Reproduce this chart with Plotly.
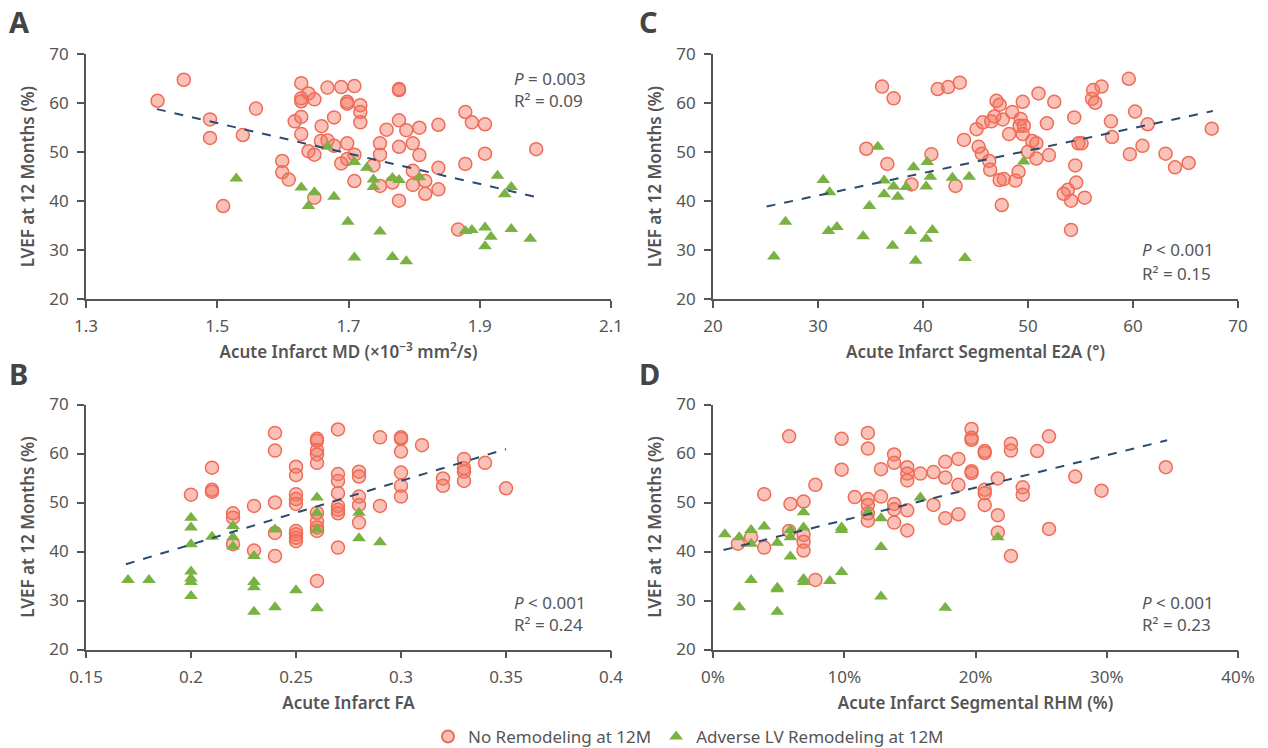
import plotly.graph_objects as go

W, H = 1268, 748
OFF = 8  # page offset of the plot div inside the browser body

# ---------------- Panel A: Acute Infarct MD ----------------
a_no_x = [1.409, 1.449, 1.489, 1.489, 1.559, 1.539, 1.509, 1.599, 1.599, 1.609,
          1.628, 1.639, 1.628, 1.628, 1.648, 1.618, 1.628, 1.628, 1.659, 1.668,
          1.689, 1.709, 1.698, 1.698, 1.718, 1.718, 1.718, 1.678, 1.658, 1.668,
          1.678, 1.639, 1.648, 1.698, 1.709, 1.698, 1.689, 1.648, 1.709, 1.738,
          1.748, 1.748, 1.758, 1.777, 1.777, 1.777, 1.788, 1.777, 1.798, 1.808,
          1.808, 1.798, 1.798, 1.748, 1.767, 1.777, 1.817, 1.817, 1.837, 1.837,
          1.837, 1.878, 1.888, 1.908, 1.878, 1.908, 1.867, 1.986]
a_no_y = [60.5, 64.8, 56.7, 52.9, 58.9, 53.5, 39.0, 48.2, 45.9, 44.4,
          64.1, 62.0, 61.0, 60.4, 60.8, 56.3, 57.2, 53.7, 55.3, 63.2,
          63.3, 63.5, 60.3, 59.9, 59.6, 58.2, 56.1, 57.1, 52.3, 52.4,
          51.3, 50.2, 49.5, 51.8, 49.5, 48.6, 47.7, 40.7, 44.1, 47.3,
          51.8, 49.5, 54.6, 62.9, 62.7, 56.5, 54.5, 51.1, 51.8, 55.0,
          49.4, 46.2, 43.3, 43.1, 43.8, 40.1, 44.1, 41.5, 55.6, 46.8,
          42.4, 58.2, 56.1, 55.7, 47.6, 49.7, 34.2, 50.6]
a_adv_x = [1.529, 1.628, 1.639, 1.648, 1.668, 1.678, 1.699, 1.709, 1.709, 1.728,
           1.738, 1.738, 1.748, 1.767, 1.777, 1.767, 1.788, 1.808, 1.878, 1.888,
           1.908, 1.917, 1.908, 1.927, 1.948, 1.938, 1.948, 1.977]
a_adv_y = [44.6, 42.8, 39.0, 41.8, 51.1, 40.9, 35.8, 48.0, 28.5, 46.8,
           44.4, 42.9, 33.8, 44.7, 44.3, 28.6, 27.7, 44.9, 33.9, 34.1,
           34.6, 32.7, 30.8, 45.2, 42.9, 41.4, 34.3, 32.3]
a_fit_x = [1.408, 1.984]
a_fit_y = [58.8, 40.9]

# ---------------- Panel B: Acute Infarct FA ----------------
b_no_x = [0.24, 0.24, 0.21, 0.21, 0.21, 0.20, 0.22, 0.22, 0.22, 0.23,
          0.23, 0.24, 0.24, 0.24, 0.25, 0.25, 0.25, 0.25, 0.25, 0.25,
          0.25, 0.25, 0.25, 0.26, 0.26, 0.26, 0.26, 0.26, 0.26, 0.26,
          0.26, 0.26, 0.26, 0.27, 0.27, 0.27, 0.27, 0.27, 0.27, 0.27,
          0.27, 0.28, 0.28, 0.28, 0.28, 0.28, 0.29, 0.29, 0.30, 0.30,
          0.30, 0.30, 0.30, 0.30, 0.31, 0.32, 0.32, 0.33, 0.33, 0.33,
          0.33, 0.34, 0.35]
b_no_y = [64.2, 60.6, 57.1, 52.6, 52.2, 51.6, 47.8, 46.9, 41.5, 49.3,
          40.2, 50.0, 43.8, 39.1, 57.3, 55.6, 51.7, 50.7, 49.7, 44.2,
          43.5, 42.8, 42.1, 63.0, 62.6, 60.7, 59.8, 58.1, 47.9, 46.2,
          44.9, 44.2, 34.0, 64.9, 55.8, 54.4, 51.9, 49.3, 48.5, 47.8,
          40.8, 56.3, 55.3, 51.2, 49.5, 45.9, 63.3, 49.3, 63.3, 63.0,
          60.4, 56.1, 53.4, 51.2, 61.7, 54.9, 53.4, 58.9, 57.0, 56.3,
          54.4, 58.1, 52.9]
b_adv_x = [0.17, 0.18, 0.20, 0.20, 0.20, 0.20, 0.20, 0.20, 0.20, 0.21,
           0.22, 0.22, 0.22, 0.23, 0.23, 0.23, 0.23, 0.24, 0.24, 0.25,
           0.26, 0.26, 0.26, 0.26, 0.28, 0.28, 0.29]
b_adv_y = [34.2, 34.2, 46.9, 44.9, 41.5, 35.9, 34.5, 33.8, 30.9, 43.0,
           45.2, 42.9, 41.0, 39.1, 33.8, 32.7, 27.7, 44.5, 28.6, 32.1,
           51.0, 47.9, 44.5, 28.4, 47.9, 42.7, 41.9]
b_fit_x = [0.169, 0.350]
b_fit_y = [37.4, 60.9]

# ---------------- Panel C: Acute Infarct Segmental E2A ----------------
c_no_x = [36.1, 37.2, 41.4, 42.4, 43.5, 34.6, 36.6, 40.8, 38.9, 43.1,
          43.9, 45.1, 45.3, 45.6, 45.7, 46.5, 46.8, 47.0, 47.3, 47.6,
          48.5, 48.2, 46.3, 46.4, 47.3, 47.7, 47.5, 48.8, 49.1, 49.3,
          49.2, 49.6, 49.5, 49.5, 50.0, 50.4, 50.8, 50.8, 51.0, 51.8,
          52.0, 52.5, 54.4, 54.8, 55.1, 54.5, 54.6, 53.8, 53.4, 54.1,
          55.4, 54.1, 56.2, 56.1, 56.4, 57.0, 57.9, 58.0, 59.6, 60.2,
          59.7, 60.9, 61.4, 63.1, 64.0, 65.3, 67.5]
c_no_y = [63.4, 61.0, 62.9, 63.3, 64.2, 50.7, 47.6, 49.6, 43.4, 43.1,
          52.5, 54.7, 51.1, 49.7, 56.1, 56.3, 57.3, 60.5, 59.7, 56.7,
          58.2, 53.7, 48.2, 46.4, 44.3, 44.5, 39.2, 44.2, 46.0, 56.8,
          55.4, 55.4, 53.7, 60.3, 50.1, 52.3, 51.8, 48.7, 62.0, 55.9,
          49.4, 60.3, 57.1, 51.8, 51.8, 47.3, 43.8, 42.3, 41.5, 40.1,
          40.7, 34.1, 62.7, 60.9, 60.1, 63.4, 56.3, 53.1, 65.0, 58.3,
          49.6, 51.3, 55.7, 49.7, 46.9, 47.8, 54.8]
c_adv_x = [25.8, 26.9, 30.5, 31.1, 31.0, 31.8, 34.3, 34.9, 35.7, 36.3,
           36.3, 37.2, 37.6, 37.1, 38.4, 38.8, 39.1, 39.3, 40.3, 40.3,
           40.4, 40.7, 40.9, 42.8, 44.0, 44.4, 49.6]
c_adv_y = [28.7, 35.8, 44.3, 41.8, 33.9, 34.7, 32.8, 39.0, 51.1, 44.2,
           41.4, 43.0, 40.9, 30.9, 42.9, 33.9, 46.9, 27.8, 43.0, 32.3,
           48.0, 45.0, 34.1, 44.8, 28.4, 45.0, 48.1]
c_fit_x = [25.1, 67.6]
c_fit_y = [38.9, 58.4]

# ---------------- Panel D: Acute Infarct Segmental RHM (%) ----------------
d_no_x = [5.8, 3.9, 5.9, 6.9, 7.8, 1.9, 2.9, 3.9, 5.8, 6.9,
          6.9, 6.9, 7.8, 9.8, 9.8, 11.8, 11.8, 10.8, 11.8, 11.8,
          11.8, 11.8, 12.8, 12.8, 13.8, 13.8, 13.8, 13.8, 13.8, 14.8,
          14.8, 14.8, 14.8, 14.8, 15.8, 16.8, 16.8, 17.7, 17.7, 17.7,
          18.7, 18.7, 18.7, 19.7, 19.7, 19.7, 19.7, 19.7, 20.7, 20.7,
          20.7, 20.7, 20.7, 21.7, 21.7, 21.7, 22.7, 22.7, 22.7, 23.6,
          23.6, 24.7, 25.6, 25.6, 27.6, 29.6, 34.5]
d_no_y = [63.5, 51.7, 49.7, 50.2, 53.6, 41.6, 42.9, 40.8, 44.2, 43.4,
          42.0, 40.2, 34.2, 63.0, 56.7, 64.2, 61.0, 51.1, 50.7, 49.5,
          47.8, 46.3, 56.8, 51.2, 59.8, 58.1, 49.7, 48.6, 45.9, 57.2,
          55.9, 54.5, 48.4, 44.3, 55.9, 56.2, 49.5, 58.3, 55.1, 46.8,
          58.9, 53.6, 47.6, 65.0, 63.2, 62.8, 56.4, 56.0, 60.5, 60.1,
          52.6, 51.9, 49.5, 54.9, 47.4, 43.9, 62.0, 60.6, 39.1, 53.1,
          51.6, 60.5, 63.5, 44.6, 55.3, 52.4, 57.2]
d_adv_x = [0.9, 2.0, 2.9, 3.9, 2.0, 2.9, 2.9, 4.9, 4.9, 4.9,
           4.9, 5.9, 5.9, 5.9, 6.9, 6.9, 6.9, 6.9, 8.9, 9.8,
           9.8, 9.8, 11.8, 12.8, 12.8, 12.8, 15.8, 17.7, 21.7]
d_adv_y = [43.5, 42.9, 44.4, 45.1, 28.6, 34.2, 41.6, 41.8, 32.6, 32.3,
           27.7, 44.4, 42.9, 39.0, 48.0, 44.9, 34.4, 33.8, 34.0, 44.9,
           44.4, 35.8, 48.0, 46.8, 40.9, 30.8, 51.0, 28.5, 42.9]
d_fit_x = [0.8, 34.6]
d_fit_y = [40.3, 62.7]

# tick labels
a_ticks = [1.3, 1.5, 1.7, 1.9, 2.1]
b_ticks = [0.15, 0.2, 0.25, 0.3, 0.35, 0.4]
c_ticks = [20, 30, 40, 50, 60, 70]
d_ticks = [0, 10, 20, 30, 40]
d_ticktext = ["0%", "10%", "20%", "30%", "40%"]
y_ticks = [20, 30, 40, 50, 60, 70]

legend_names = ["No Remodeling at 12M", "Adverse LV Remodeling at 12M"]
stats = {"A": ("<i>P</i> = 0.003", "R² = 0.09"),
         "B": ("<i>P</i> < 0.001", "R² = 0.24"),
         "C": ("<i>P</i> < 0.001", "R² = 0.15"),
         "D": ("<i>P</i> < 0.001", "R² = 0.23")}

FONT = "Noto Sans"
TXT = "#555555"
CIRC_FILL = "rgba(243,118,98,0.45)"
CIRC_LINE = "#ef6c57"
GREEN = "#79b243"
NAVY = "#2c4a6c"

fig = go.Figure()

panels = [
    ("A", "x", "y", a_no_x, a_no_y, a_adv_x, a_adv_y, a_fit_x, a_fit_y),
    ("B", "x2", "y2", b_no_x, b_no_y, b_adv_x, b_adv_y, b_fit_x, b_fit_y),
    ("C", "x3", "y3", c_no_x, c_no_y, c_adv_x, c_adv_y, c_fit_x, c_fit_y),
    ("D", "x4", "y4", d_no_x, d_no_y, d_adv_x, d_adv_y, d_fit_x, d_fit_y),
]

for i, (lab, xa, ya, nx, ny, ax_, ay_, fx, fy) in enumerate(panels):
    fig.add_trace(go.Scatter(
        x=nx, y=ny, mode="markers", xaxis=xa, yaxis=ya,
        name=legend_names[0], showlegend=(i == 0), legendgroup="no",
        marker=dict(symbol="circle", size=13, color=CIRC_FILL,
                    line=dict(color=CIRC_LINE, width=1.5))))
    fig.add_trace(go.Scatter(
        x=ax_, y=ay_, mode="markers", xaxis=xa, yaxis=ya,
        name=legend_names[1], showlegend=(i == 0), legendgroup="adv",
        marker=dict(symbol="triangle-up", size=12, color=GREEN,
                    line=dict(width=0))))
    fig.add_trace(go.Scatter(
        x=fx, y=fy, mode="lines", xaxis=xa, yaxis=ya, showlegend=False,
        line=dict(color=NAVY, width=2, dash="dash")))


def px_x(p):
    return (p - OFF) / W


def px_y(p):
    return 1 - (p - OFF) / H


left = [px_x(86), px_x(611)]
right = [px_x(713), px_x(1238)]
top = [px_y(299), px_y(54.3)]
bot = [px_y(649.5), px_y(404.5)]


def xaxis(domain, anchor, rng, ticks, title, ticktext=None):
    d = dict(domain=domain, anchor=anchor, range=rng, tickvals=ticks,
             showgrid=False, zeroline=False, automargin=False,
             showline=True, linecolor=TXT, linewidth=1.6,
             ticks="outside", ticklen=7, tickwidth=1.6, tickcolor=TXT,
             ticklabelstandoff=4,
             tickfont=dict(family=FONT, size=17, color=TXT),
             title=dict(text=title, standoff=10,
                        font=dict(family=FONT, size=17, color=TXT, weight=600)))
    if ticktext is not None:
        d["ticktext"] = ticktext
    return d


def yaxis(domain, anchor):
    return dict(domain=domain, anchor=anchor, range=[20, 70], tickvals=y_ticks,
                showgrid=False, zeroline=False, automargin=False,
                showline=True, linecolor=TXT, linewidth=1.6,
                ticks="outside", ticklen=7, tickwidth=1.6, tickcolor=TXT,
                ticklabelstandoff=5,
                tickfont=dict(family=FONT, size=17, color=TXT),
                title=dict(text="LVEF at 12 Months (%)", standoff=10,
                           font=dict(family=FONT, size=17, color=TXT, weight=600)))


fig.update_layout(
    template="none",
    width=W, height=H,
    margin=dict(l=0, r=0, t=0, b=0, autoexpand=False),
    paper_bgcolor="white", plot_bgcolor="white",
    xaxis=xaxis(left, "y", [1.3, 2.1], a_ticks,
                "Acute Infarct MD (×10<sup>−3</sup> mm<sup>2</sup>/s)"),
    yaxis=yaxis(top, "x"),
    xaxis2=xaxis(left, "y2", [0.15, 0.4], b_ticks, "Acute Infarct FA"),
    yaxis2=yaxis(bot, "x2"),
    xaxis3=xaxis(right, "y3", [20, 70], c_ticks, "Acute Infarct Segmental E2A (°)"),
    yaxis3=yaxis(top, "x3"),
    xaxis4=xaxis(right, "y4", [0, 40], d_ticks, "Acute Infarct Segmental RHM (%)",
                 d_ticktext),
    yaxis4=yaxis(bot, "x4"),
    showlegend=True,
    legend=dict(orientation="h", x=px_x(428), y=px_y(737), xanchor="left",
                yanchor="middle", font=dict(family=FONT, size=17, color=TXT),
                bgcolor="rgba(0,0,0,0)", itemsizing="constant", itemwidth=30),
)

# panel letters (page pixel positions)
letters = {"A": (8, 22), "B": (8, 373), "C": (638, 22), "D": (638, 373)}
for k, (px, py) in letters.items():
    fig.add_annotation(text=k, xref="paper", yref="paper", x=px_x(px), y=px_y(py),
                       xanchor="left", yanchor="middle", showarrow=False,
                       borderpad=0,
                       font=dict(family=FONT, size=29, color="#444444", weight=700))

# statistics text
stat_pos = {"A": (512, 78, 101), "B": (512, 602, 624),
            "C": (1140, 250, 273), "D": (1140, 602, 624)}
for k, (px, py1, py2) in stat_pos.items():
    for txt, py in zip(stats[k], (py1, py2)):
        fig.add_annotation(text=txt, xref="paper", yref="paper", x=px_x(px),
                           y=px_y(py), xanchor="left", yanchor="middle",
                           showarrow=False,
                           font=dict(family=FONT, size=17, color=TXT))

fig.write_html("out.html")
